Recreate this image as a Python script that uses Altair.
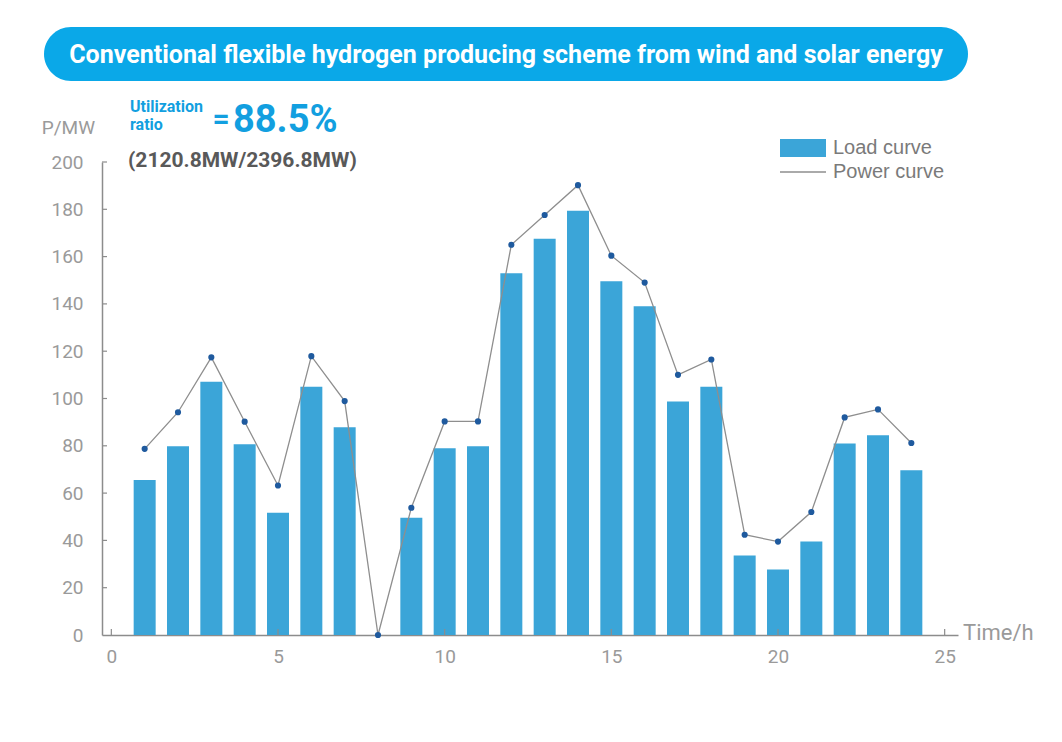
import altair as alt
import pandas as pd

# Hourly schedule (h) with electrolyser load and renewable power output (MW)
hours = list(range(1, 25))
load_mw = [65.5, 79.8, 107.1, 80.7, 51.7, 105.0, 87.8, 0.0, 49.6, 79.0, 79.8, 153.0,
           167.6, 179.4, 149.6, 139.0, 98.7, 105.0, 33.6, 27.7, 39.5, 81.0, 84.5, 69.7]
power_mw = [78.7, 94.2, 117.4, 90.2, 63.2, 117.9, 98.9, 0.0, 53.8, 90.3, 90.3, 165.0,
            177.6, 190.2, 160.4, 149.0, 110.0, 116.5, 42.4, 39.5, 52.0, 92.0, 95.4, 81.2]
x_ticks = [0, 5, 10, 15, 20, 25]
y_ticks = [0, 20, 40, 60, 80, 100, 120, 140, 160, 180, 200]

title_text = "Conventional flexible hydrogen producing scheme from wind and solar energy"
ratio_value = "88.5%"
ratio_detail = "(2120.8MW/2396.8MW)"

df = pd.DataFrame({"hour": hours, "load": load_mw, "power": power_mw})
one = pd.DataFrame({"k": [0]})

W, H = 856, 473
BAR_BLUE = "#3ba5d8"
PILL_BLUE = "#0aa8e8"
TEXT_BLUE = "#129fe0"
AXIS_GREY = "#8c8c8c"
LABEL_GREY = "#9a9a9a"
FONT = "Roboto"

x_scale = alt.Scale(domain=[-0.13, 25.25], nice=False, zero=False)
y_scale = alt.Scale(domain=[0, 200], nice=False)

x_axis = alt.Axis(values=x_ticks, title=None, grid=False, ticks=False, tickSize=0,
                  domainColor=AXIS_GREY, domainWidth=1.5, labelColor=LABEL_GREY,
                  labelFont=FONT, labelFontSize=19, labelPadding=12, labelFlush=False)
y_axis = alt.Axis(values=y_ticks, title=None, grid=False, ticks=False, tickSize=0,
                  domainColor=AXIS_GREY, domainWidth=1.5, labelColor=LABEL_GREY,
                  labelFont=FONT, labelFontSize=19, labelPadding=19, labelFlush=False)

bars = alt.Chart(df).mark_bar(color=BAR_BLUE, size=22).encode(
    x=alt.X("hour:Q", scale=x_scale, axis=x_axis),
    y=alt.Y("load:Q", scale=y_scale, axis=y_axis),
)

line = alt.Chart(df).mark_line(color="#8e8e8e", strokeWidth=1.3).encode(
    x=alt.X("hour:Q", scale=x_scale), y=alt.Y("power:Q", scale=y_scale)
)
dots = alt.Chart(df).mark_circle(color="#1f5a9e", size=38, opacity=1).encode(
    x=alt.X("hour:Q", scale=x_scale), y=alt.Y("power:Q", scale=y_scale)
)

# inward tick marks on both axes
xt = alt.Chart(pd.DataFrame({"t": x_ticks})).mark_rule(color=AXIS_GREY, strokeWidth=1.2).encode(
    x=alt.X("t:Q", scale=x_scale), y=alt.value(H), y2=alt.value(H - 6)
)
yt = alt.Chart(pd.DataFrame({"t": y_ticks[1:]})).mark_rule(color=AXIS_GREY, strokeWidth=1.2).encode(
    y=alt.Y("t:Q", scale=y_scale), x=alt.value(0), x2=alt.value(5)
)

# title pill
pill = alt.Chart(one).mark_rect(color=PILL_BLUE, cornerRadius=27).encode(
    x=alt.value(-58), x2=alt.value(866), y=alt.value(-135), y2=alt.value(-81)
)
pill_text = alt.Chart(one).mark_text(
    text=title_text, color="white", font=FONT, fontWeight="bold", fontSize=25,
    align="center", baseline="middle"
).encode(x=alt.value(404), y=alt.value(-107))

# utilization ratio annotation
util1 = alt.Chart(one).mark_text(
    text="Utilization", color=TEXT_BLUE, font=FONT, fontWeight="bold", fontSize=16,
    align="left", baseline="middle"
).encode(x=alt.value(28), y=alt.value(-55))
util2 = alt.Chart(one).mark_text(
    text="ratio", color=TEXT_BLUE, font=FONT, fontWeight="bold", fontSize=16,
    align="left", baseline="middle"
).encode(x=alt.value(28), y=alt.value(-37))
eq = alt.Chart(one).mark_text(
    text="=", color=TEXT_BLUE, font=FONT, fontWeight="bold", fontSize=30,
    align="center", baseline="middle"
).encode(x=alt.value(119), y=alt.value(-42))
big = alt.Chart(one).mark_text(
    text=ratio_value, color=TEXT_BLUE, font=FONT, fontWeight="bold", fontSize=38,
    align="left", baseline="middle"
).encode(x=alt.value(131), y=alt.value(-41))
detail = alt.Chart(one).mark_text(
    text=ratio_detail, color="#595959", font=FONT, fontWeight="bold", fontSize=21,
    align="left", baseline="middle"
).encode(x=alt.value(26), y=alt.value(-1))

# axis titles
ytitle = alt.Chart(one).mark_text(
    text="P/MW", color=LABEL_GREY, font=FONT, fontSize=19, align="right", baseline="middle"
).encode(x=alt.value(-7), y=alt.value(-34))
xtitle = alt.Chart(one).mark_text(
    text="Time/h", color=LABEL_GREY, font=FONT, fontSize=22, align="left", baseline="middle"
).encode(x=alt.value(861), y=alt.value(471))

# legend
leg_rect = alt.Chart(one).mark_rect(color=BAR_BLUE).encode(
    x=alt.value(678), x2=alt.value(724), y=alt.value(-23), y2=alt.value(-5)
)
leg_rule = alt.Chart(one).mark_rule(color="#8e8e8e", strokeWidth=1.3).encode(
    x=alt.value(678), x2=alt.value(724), y=alt.value(10)
)
leg_t1 = alt.Chart(one).mark_text(
    text="Load curve", color="#7a7a7a", font="Liberation Sans", fontSize=20,
    align="left", baseline="middle"
).encode(x=alt.value(731), y=alt.value(-14))
leg_t2 = alt.Chart(one).mark_text(
    text="Power curve", color="#7a7a7a", font="Liberation Sans", fontSize=20,
    align="left", baseline="middle"
).encode(x=alt.value(731), y=alt.value(10))

chart = alt.layer(
    bars, line, dots, xt, yt, pill, pill_text, util1, util2, eq, big, detail,
    ytitle, xtitle, leg_rect, leg_rule, leg_t1, leg_t2
).properties(
    width=W, height=H,
    autosize=alt.AutoSizeParams(type="none"),
    padding={"left": 102, "top": 162, "right": 104, "bottom": 107},
    background="white",
).configure_view(stroke=None)

chart.save("out.html", embed_options={"renderer": "svg", "actions": False})
